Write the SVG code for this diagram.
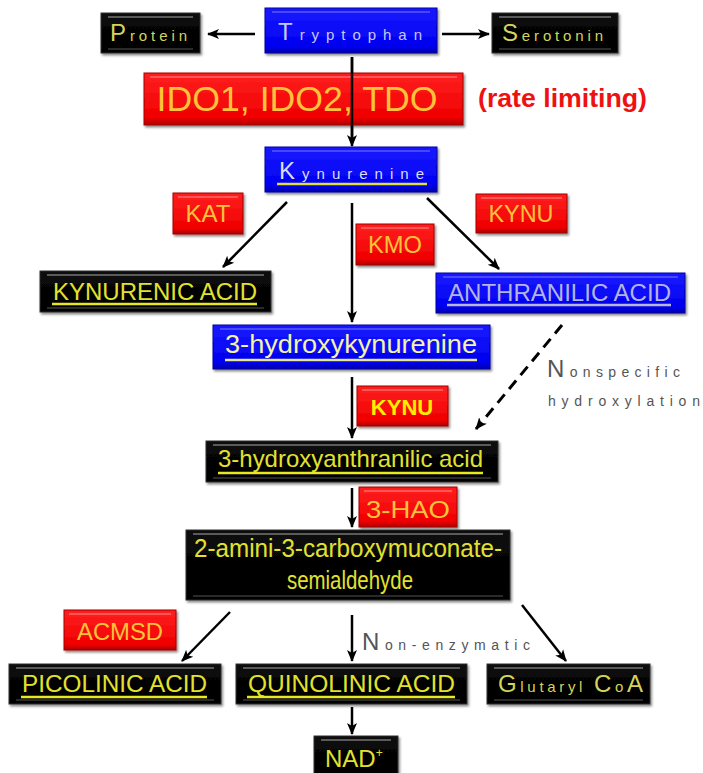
<svg xmlns="http://www.w3.org/2000/svg" width="703" height="773" viewBox="0 0 703 773">
<defs>
<linearGradient id="gRed" x1="0" y1="0" x2="0" y2="1"><stop offset="0" stop-color="#ff2020"/><stop offset="0.85" stop-color="#f00000"/><stop offset="1" stop-color="#b00000"/></linearGradient>
<linearGradient id="gBlue" x1="0" y1="0" x2="0" y2="1"><stop offset="0" stop-color="#1a1aff"/><stop offset="0.85" stop-color="#0000f0"/><stop offset="1" stop-color="#0000a8"/></linearGradient>
<linearGradient id="gBlk" x1="0" y1="0" x2="0" y2="1"><stop offset="0" stop-color="#0a0a0a"/><stop offset="1" stop-color="#000"/></linearGradient>
<filter id="sh" x="-10%" y="-20%" width="120%" height="150%"><feDropShadow dx="1.5" dy="2" stdDeviation="1" flood-color="#000" flood-opacity="0.45"/></filter>
<marker id="ah" markerUnits="userSpaceOnUse" markerWidth="12" markerHeight="12" viewBox="0 0 12 12" refX="11" refY="6" orient="auto"><path d="M0,1 L12,6 L0,11 L3,6 Z" fill="#000"/></marker>
</defs>
<style>
.red{fill:url(#gRed);stroke:#a00000;stroke-width:1;filter:url(#sh)}
.blue{fill:url(#gBlue);stroke:#0000a0;stroke-width:1;filter:url(#sh)}
.blk{fill:url(#gBlk);stroke:#333;stroke-width:1;filter:url(#sh)}
.hlr{stroke:#ff6a6a;stroke-width:1.5}
.hlb{stroke:#5a5aff;stroke-width:1.5}
.hlk{stroke:#5a5a5a;stroke-width:2}
.hlk2{stroke:#2a2a2a;stroke-width:2}
.enz{font-family:"Liberation Sans",Arial,sans-serif;fill:#ffc23a;text-anchor:middle}
.mol{font-family:"Liberation Sans",Arial,sans-serif;fill:#e2e22e}
.fancy{font-family:"Liberation Sans",Arial,sans-serif}
.ul{stroke-width:2.5}
.conn line{stroke:#000;stroke-width:2.5;marker-end:url(#ah)}
.note{font-family:"Liberation Sans",Arial,sans-serif;fill:#555}
</style>
<rect width="703" height="773" fill="#fff"/>

<g id="connectors" class="conn">
<line x1="255" y1="34" x2="208" y2="34"/>
<line x1="442" y1="34" x2="489" y2="34"/>
<line x1="352" y1="57" x2="352" y2="146"/>
<line x1="287" y1="202" x2="223" y2="267"/>
<line x1="352" y1="203" x2="352" y2="322"/>
<line x1="427" y1="198" x2="499" y2="269"/>
<line x1="562" y1="325" x2="476" y2="429" style="stroke-dasharray:11,7;stroke-width:3"/>
<line x1="352" y1="377" x2="352" y2="438"/>
<line x1="352" y1="488" x2="352" y2="527"/>
<line x1="230" y1="612" x2="182" y2="661"/>
<line x1="352" y1="615" x2="352" y2="661"/>
<line x1="522" y1="605" x2="566" y2="661"/>
<line x1="352" y1="707" x2="352" y2="734"/>
</g>

<g id="protein">
<rect class="blk" x="101" y="13" width="99" height="40"/>
<line class="hlk" x1="108" y1="17" x2="193" y2="17"/><line class="hlk2" x1="108" y1="49" x2="193" y2="49"/>
<text class="fancy" x="110" y="41" fill="#d4d45a" textLength="77"><tspan font-size="24">P</tspan><tspan font-size="15">rotein</tspan></text>
</g>

<g id="tryptophan">
<rect class="blue" x="265" y="8" width="172" height="45"/>
<line class="hlb" x1="272" y1="12" x2="430" y2="12"/>
<text class="fancy" x="278" y="40" fill="#c8c8f8" textLength="144"><tspan font-size="24">T</tspan><tspan font-size="15">ryptophan</tspan></text>
</g>

<g id="serotonin">
<rect class="blk" x="492" y="13" width="126" height="40"/>
<line class="hlk" x1="499" y1="17" x2="611" y2="17"/><line class="hlk2" x1="499" y1="49" x2="611" y2="49"/>
<text class="fancy" x="502" y="41" fill="#d4d45a" textLength="101"><tspan font-size="24">S</tspan><tspan font-size="15">erotonin</tspan></text>
</g>

<g id="ido">
<rect class="red" x="144" y="73" width="319" height="52"/>
<line class="hlr" x1="150" y1="77" x2="457" y2="77"/>
<text class="enz" x="297" y="111" font-size="35" textLength="281" lengthAdjust="spacingAndGlyphs">IDO1, IDO2,  TDO</text>
</g>
<line x1="352" y1="57" x2="352" y2="140" stroke="#000" stroke-width="2.5"/>

<g id="rate-limiting">
<text x="478" y="107" font-family="Liberation Sans,Arial,sans-serif" font-weight="bold" font-size="25" fill="#ee1111" textLength="169" lengthAdjust="spacingAndGlyphs">(rate limiting)</text>
</g>

<g id="kynurenine">
<rect class="blue" x="265" y="147" width="172" height="45"/>
<line class="hlb" x1="272" y1="151" x2="430" y2="151"/>
<text class="fancy" x="279" y="179" fill="#dcdcf0" textLength="145"><tspan font-size="24">K</tspan><tspan font-size="15">ynurenine</tspan></text>
<line class="ul" x1="277" y1="184" x2="427" y2="184" stroke="#e0e030"/>
</g>

<g id="kat">
<rect class="red" x="173" y="193" width="70" height="41"/>
<line class="hlr" x1="178" y1="197" x2="238" y2="197"/>
<text class="enz" x="208" y="222" font-size="23" textLength="45" lengthAdjust="spacingAndGlyphs">KAT</text>
</g>

<g id="kmo">
<rect class="red" x="356" y="224" width="78" height="41"/>
<line class="hlr" x1="361" y1="228" x2="429" y2="228"/>
<text class="enz" x="395" y="253" font-size="23" textLength="54" lengthAdjust="spacingAndGlyphs">KMO</text>
</g>

<g id="kynu1">
<rect class="red" x="476" y="194" width="91" height="39"/>
<line class="hlr" x1="481" y1="198" x2="562" y2="198"/>
<text class="enz" x="521" y="222" font-size="23" textLength="65" lengthAdjust="spacingAndGlyphs">KYNU</text>
</g>

<g id="kynurenic-acid">
<rect class="blk" x="40" y="271" width="231" height="41"/>
<line class="hlk" x1="47" y1="275" x2="264" y2="275"/><line class="hlk2" x1="47" y1="308" x2="264" y2="308"/>
<text class="mol" x="53" y="300" font-size="24" textLength="204" lengthAdjust="spacingAndGlyphs">KYNURENIC ACID</text>
<line class="ul" x1="52" y1="304" x2="257" y2="304" stroke="#e8e820"/>
</g>

<g id="anthranilic-acid">
<rect class="blue" x="436" y="273" width="249" height="40"/>
<line class="hlb" x1="443" y1="277" x2="678" y2="277"/>
<text x="448" y="301" font-family="Liberation Sans,Arial,sans-serif" font-size="24" fill="#b4b4e0" textLength="223" lengthAdjust="spacingAndGlyphs">ANTHRANILIC ACID</text>
<line class="ul" x1="447" y1="305" x2="671" y2="305" stroke="#b8b8c8"/>
</g>

<g id="hydroxykynurenine">
<rect class="blue" x="213" y="325" width="277" height="44"/>
<line class="hlb" x1="220" y1="329" x2="483" y2="329"/>
<text x="225" y="353" font-family="Liberation Sans,Arial,sans-serif" font-size="25" fill="#f4f4a8" textLength="252" lengthAdjust="spacingAndGlyphs">3-hydroxykynurenine</text>
<line class="ul" x1="225" y1="360" x2="477" y2="360" stroke="#e8e890"/>
</g>

<g id="nonspecific-label">
<text class="note" x="547" y="377" textLength="133"><tspan font-size="24">N</tspan><tspan font-size="14">onspecific</tspan></text>
<text class="note" x="548" y="406" font-size="14" textLength="152">hydroxylation</text>
</g>

<g id="kynu2">
<rect class="red" x="357" y="386" width="91" height="40"/>
<line class="hlr" x1="362" y1="390" x2="443" y2="390"/>
<text x="402" y="415" font-family="Liberation Sans,Arial,sans-serif" font-weight="bold" font-size="22" fill="#ffee00" text-anchor="middle">KYNU</text>
</g>

<g id="hydroxyanthranilic-acid">
<rect class="blk" x="206" y="441" width="292" height="41"/>
<line class="hlk" x1="213" y1="445" x2="491" y2="445"/><line class="hlk2" x1="213" y1="478" x2="491" y2="478"/>
<text class="mol" x="218" y="467" font-size="24" fill="#ecec28" textLength="265" lengthAdjust="spacingAndGlyphs">3-hydroxyanthranilic acid</text>
<line class="ul" x1="218" y1="473" x2="483" y2="473" stroke="#e8e820"/>
</g>

<g id="hao">
<rect class="red" x="359" y="487" width="98" height="40"/>
<line class="hlr" x1="364" y1="491" x2="452" y2="491"/>
<text class="enz" x="408" y="518" font-size="24" textLength="84" lengthAdjust="spacingAndGlyphs">3-HAO</text>
</g>

<g id="acms">
<rect class="blk" x="186" y="530" width="324" height="70"/>
<line class="hlk" x1="193" y1="534" x2="503" y2="534"/><line class="hlk2" x1="193" y1="596" x2="503" y2="596"/>
<text class="mol" x="348" y="557" font-size="26" fill="#f0f040" text-anchor="middle" textLength="308" lengthAdjust="spacingAndGlyphs">2-amini-3-carboxymuconate-</text>
<text class="mol" x="350" y="589" font-size="26" fill="#f0f040" text-anchor="middle" textLength="126" lengthAdjust="spacingAndGlyphs">semialdehyde</text>
</g>

<g id="acmsd">
<rect class="red" x="64" y="610" width="112" height="40"/>
<line class="hlr" x1="69" y1="614" x2="171" y2="614"/>
<text class="enz" x="120" y="640" font-size="24" textLength="86" lengthAdjust="spacingAndGlyphs">ACMSD</text>
</g>

<g id="non-enzymatic-label">
<text class="note" x="362" y="650" textLength="168"><tspan font-size="24">N</tspan><tspan font-size="14">on-enzymatic</tspan></text>
</g>

<g id="picolinic-acid">
<rect class="blk" x="9" y="664" width="212" height="40"/>
<line class="hlk" x1="16" y1="668" x2="214" y2="668"/><line class="hlk2" x1="16" y1="700" x2="214" y2="700"/>
<text class="mol" x="22" y="692" font-size="24" textLength="185" lengthAdjust="spacingAndGlyphs">PICOLINIC ACID</text>
<line class="ul" x1="21" y1="697" x2="207" y2="697" stroke="#e8e820"/>
</g>

<g id="quinolinic-acid">
<rect class="blk" x="236" y="664" width="231" height="40"/>
<line class="hlk" x1="243" y1="668" x2="460" y2="668"/><line class="hlk2" x1="243" y1="700" x2="460" y2="700"/>
<text class="mol" x="248" y="692" font-size="24" textLength="207" lengthAdjust="spacingAndGlyphs">QUINOLINIC ACID</text>
<line class="ul" x1="247" y1="697" x2="455" y2="697" stroke="#e8e820"/>
</g>

<g id="glutaryl-coa">
<rect class="blk" x="487" y="664" width="163" height="40"/>
<line class="hlk" x1="494" y1="668" x2="643" y2="668"/><line class="hlk2" x1="494" y1="700" x2="643" y2="700"/>
<text class="fancy" x="498" y="692" fill="#d4d45a" textLength="145"><tspan font-size="24">G</tspan><tspan font-size="15">lutaryl </tspan><tspan font-size="24">C</tspan><tspan font-size="15">o</tspan><tspan font-size="24">A</tspan></text>
</g>

<g id="nad">
<rect class="blk" x="314" y="736" width="84" height="40"/>
<line class="hlk" x1="321" y1="740" x2="391" y2="740"/>
<text class="mol" x="325" y="767" font-size="24" fill="#e0e040">NAD<tspan font-size="12" dy="-10">+</tspan></text>
</g>
</svg>
